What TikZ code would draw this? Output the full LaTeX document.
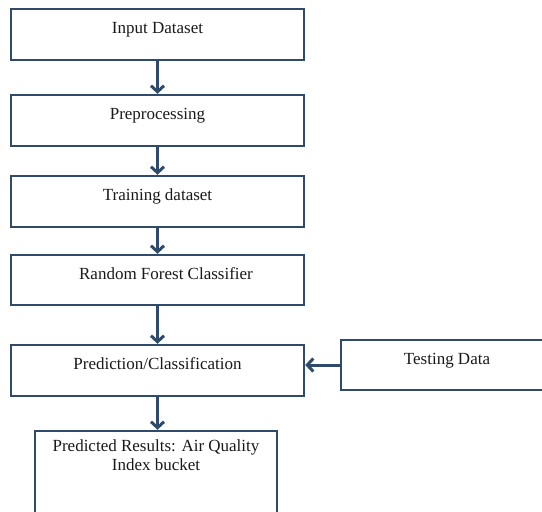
\documentclass[tikz,border=0pt]{standalone}
\usepackage{fontspec}
\setmainfont{Liberation Serif}
\usetikzlibrary{arrows.meta}
\definecolor{flowblue}{HTML}{2F4A6B}

\begin{document}
\begin{tikzpicture}[x=1pt, y=-1pt]
\tikzstyle{stage}=[draw=flowblue, line width=2.5pt, inner sep=0pt, minimum width=293pt, text height=24pt, text depth=27pt, text=black!90, font=\fontsize{17}{19}\selectfont];
\tikzstyle{flow}=[flowblue, line width=3pt, -{Straight Barb[length=6pt, width=13pt]}];
\path[use as bounding box, clip] (0,0) rectangle (542,512);

\node[stage] (input) at (157.5, 34.5) {Input Dataset};
\node[stage] (prep) at (157.5, 120.5) {Preprocessing};
\node[stage] (train) at (157.5, 201.5) {Training dataset};
\node[stage, text depth=26pt] (rf) at (157.5, 280) {\hspace*{17pt}Random Forest Classifier};
\node[stage] (pred) at (157.5, 370.5) {Prediction/Classification};

\node[stage, minimum width=212pt, text depth=26pt] (test) at (447, 365) {Testing Data};
\node[stage, align=center, minimum width=242pt, text height=39pt, text depth=61pt] (result) at (156, 481) {Predicted Results: Air Quality\\Index bucket};


\draw[flow] (input) edge (prep);
\draw[flow] (prep) edge (train);
\draw[flow] (train) edge (rf);
\draw[flow] (rf) edge (pred);
\draw[flow] (test.west) -- (pred.east |- test.west);
\draw[flow] (pred) -- (pred |- result.north);
\end{tikzpicture}
\end{document}
